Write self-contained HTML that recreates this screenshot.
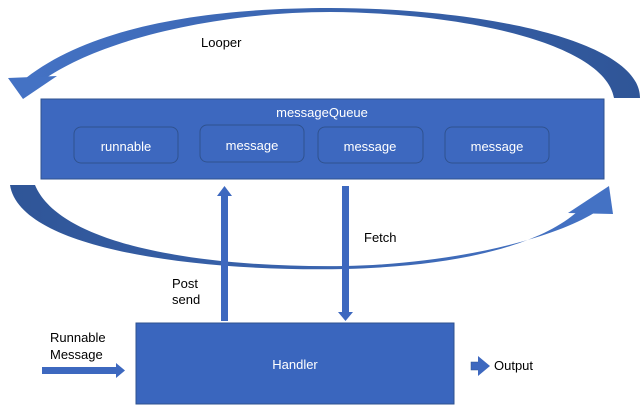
<!DOCTYPE html>
<html><head><style>
body{margin:0;background:#fff}
svg{display:block}
text{font-family:"Liberation Sans",sans-serif;font-size:13px}
</style></head><body>
<svg width="643" height="416" viewBox="0 0 643 416">
<defs>
<linearGradient id="g1" x1="0" x2="1"><stop offset="0" stop-color="#4472c4"/><stop offset="1" stop-color="#2f5597"/></linearGradient>
<linearGradient id="g2" x1="0" x2="1"><stop offset="0" stop-color="#2f5597"/><stop offset="1" stop-color="#4472c4"/></linearGradient>
</defs>
<!-- top arc -->
<path d="M26 78 C100 20 230 8 330 8 C480 8 640 40 640 98 L614 98 C605 45 470 13 330 12 C230 12 110 35 46 78 Z" fill="url(#g1)"/>
<polygon points="8,78 57,76 23,99" fill="#4472c4"/>
<!-- bottom arc -->
<path d="M10 185 C20 250 200 272 345 269 C460 266 540 245 578 211 L594 213 C550 240 450 264 345 266 C200 268 60 245 35 185 Z" fill="url(#g2)"/>
<polygon points="609,186 613,214 568,213" fill="#4472c4"/>
<!-- messageQueue -->
<rect x="41" y="99" width="563" height="80" fill="#3d68bf" stroke="#2f528f"/>
<text x="322" y="117" fill="#fff" text-anchor="middle">messageQueue</text>
<g fill="#3d68bf" stroke="#2f528f">
<rect x="74" y="127" width="104" height="36" rx="7"/>
<rect x="200" y="125" width="104" height="37" rx="7"/>
<rect x="318" y="127" width="105" height="36" rx="7"/>
<rect x="445" y="127" width="104" height="36" rx="7"/>
</g>
<g fill="#fff" text-anchor="middle">
<text x="126" y="151">runnable</text>
<text x="252" y="150">message</text>
<text x="370" y="151">message</text>
<text x="497" y="151">message</text>
</g>
<!-- post arrow -->
<rect x="221" y="194" width="7" height="127" fill="#3d68bf"/>
<polygon points="217,196 224.5,186 232,196" fill="#3d68bf"/>
<!-- fetch arrow -->
<rect x="342" y="186" width="7" height="127" fill="#3d68bf"/>
<polygon points="338,312 345.5,321 353,312" fill="#3d68bf"/>
<!-- handler -->
<rect x="136" y="323" width="318" height="81" fill="#3a66be" stroke="#2f528f"/>
<text x="295" y="369" fill="#fff" text-anchor="middle">Handler</text>
<!-- input arrow -->
<rect x="42" y="367" width="75" height="7" fill="#3d68bf"/>
<polygon points="116,363 125,370.5 116,378" fill="#3d68bf"/>
<!-- output arrow -->
<rect x="471" y="362" width="11" height="8" fill="#3d68bf" stroke="#2f528f" stroke-width="0.5"/>
<polygon points="478,356 490,366 478,376" fill="#3d68bf"/>
<g fill="#000">
<text x="201" y="47">Looper</text>
<text x="364" y="242">Fetch</text>
<text x="172" y="288">Post</text>
<text x="172" y="304">send</text>
<text x="50" y="342">Runnable</text>
<text x="50" y="359">Message</text>
<text x="494" y="370">Output</text>
</g>
</svg>
</body></html>
